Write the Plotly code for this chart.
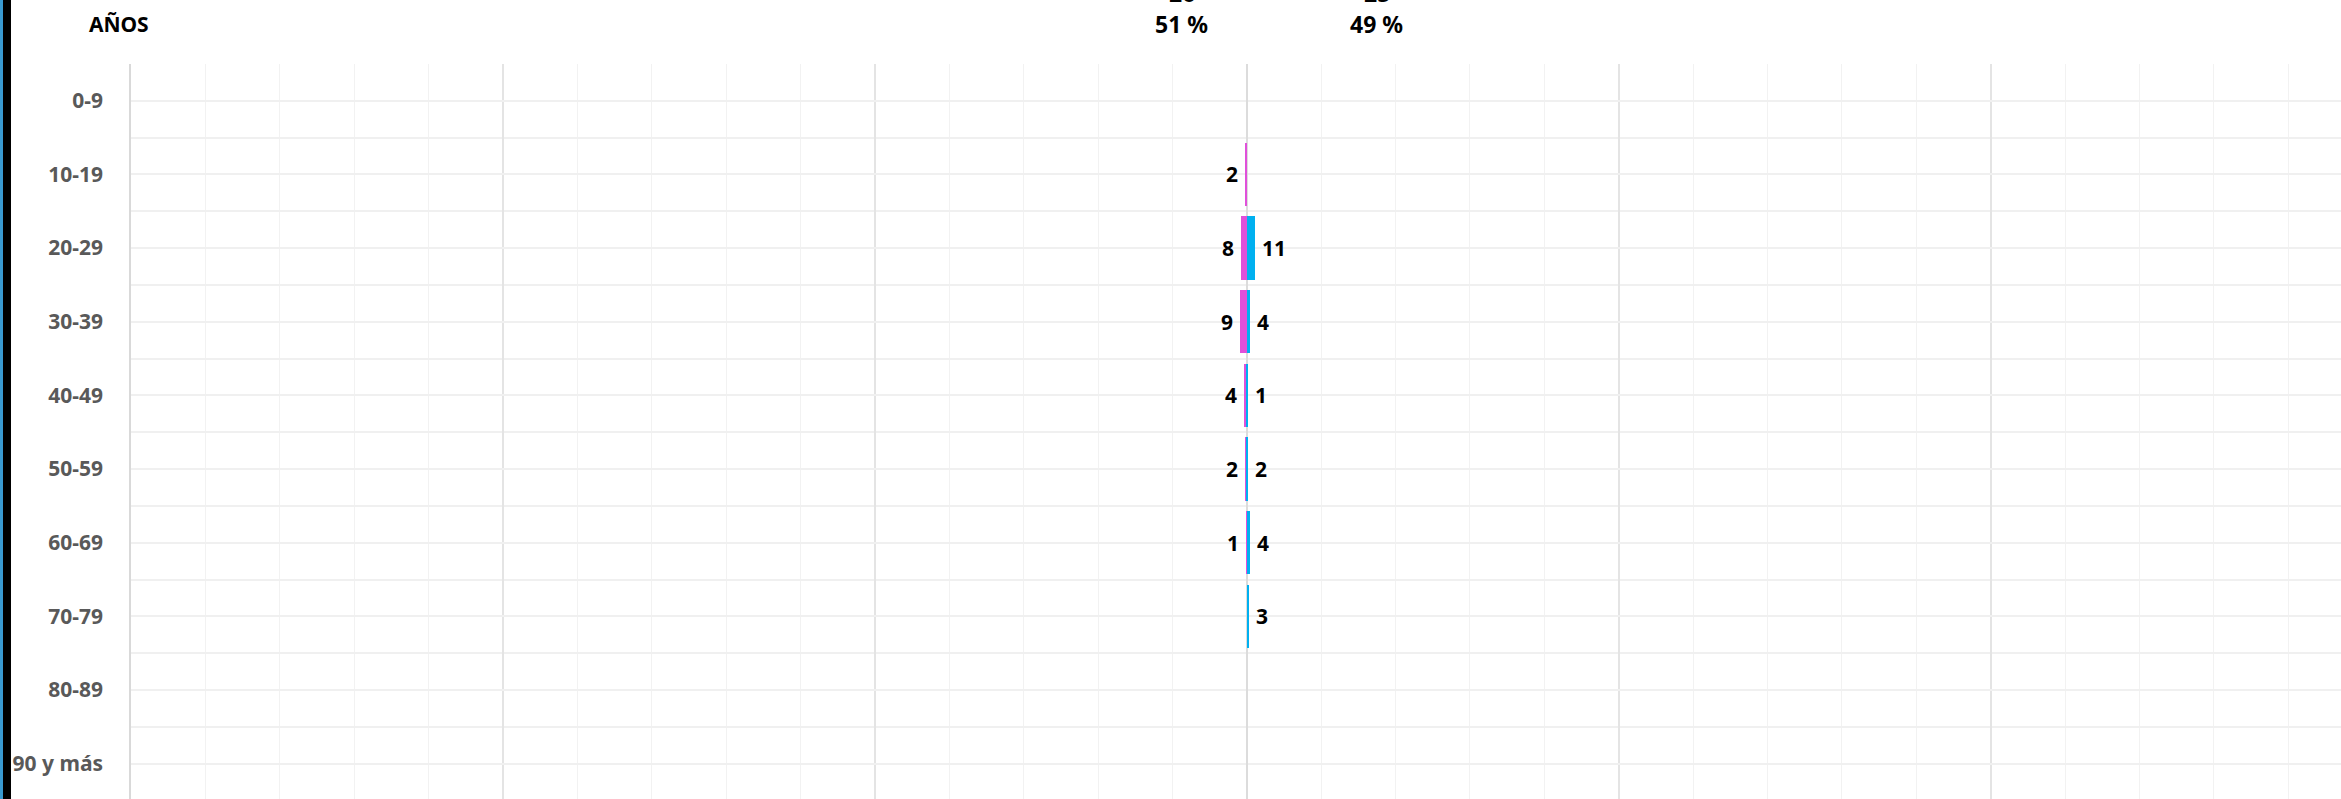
import plotly.graph_objects as go

categories = ["0-9", "10-19", "20-29", "30-39", "40-49", "50-59", "60-69", "70-79", "80-89", "90 y más"]
mujeres = [0, 2, 8, 9, 4, 2, 1, 0, 0, 0]
hombres = [0, 0, 11, 4, 1, 2, 4, 3, 0, 0]

MAGENTA = "#E050DA"
CYAN = "#00B0F0"
FONT = "Noto Sans"

ypos = list(range(len(categories)))
total_m = sum(mujeres)
total_h = sum(hombres)
total = total_m + total_h
pct_m = round(100 * total_m / total)
pct_h = round(100 * total_h / total)

fig = go.Figure()
fig.add_trace(go.Bar(y=ypos, x=[-v for v in mujeres], orientation="h", width=0.86,
                     marker=dict(color=MAGENTA, line=dict(width=0)), name="Mujeres",
                     hovertemplate="%{customdata}<extra></extra>", customdata=mujeres))
fig.add_trace(go.Bar(y=ypos, x=hombres, orientation="h", width=0.86,
                     marker=dict(color=CYAN, line=dict(width=0)), name="Hombres",
                     hovertemplate="%{x}<extra></extra>"))

annotations = []
for i, v in enumerate(mujeres):
    if v > 0:
        annotations.append(dict(x=-v, y=i, xref="x", yref="y", text=f"<b>{v}</b>", showarrow=False,
                                xanchor="right", yanchor="middle", xshift=-5,
                                font=dict(family=FONT, size=21, color="#000000")))
for i, v in enumerate(hombres):
    if v > 0:
        annotations.append(dict(x=v, y=i, xref="x", yref="y", text=f"<b>{v}</b>", showarrow=False,
                                xanchor="left", yanchor="middle", xshift=5,
                                font=dict(family=FONT, size=21, color="#000000")))

# totals and percentages at the top
for xp, tot, pc in [(0.4754, total_m, pct_m), (0.5636, total_h, pct_h)]:
    annotations.append(dict(x=xp, y=1.0551, xref="paper", yref="paper", text=f"<b>{pc} %</b>",
                            showarrow=False, xanchor="center", yanchor="middle",
                            font=dict(family=FONT, size=23, color="#000000")))
    annotations.append(dict(x=xp, y=1.096, xref="paper", yref="paper", text=f"<b>{tot}</b>",
                            showarrow=False, xanchor="center", yanchor="middle",
                            font=dict(family=FONT, size=23, color="#000000")))

annotations.append(dict(x=-0.0199, y=1.0551, xref="paper", yref="paper", text="<b>AÑOS</b>",
                        showarrow=False, xanchor="left", yanchor="middle",
                        font=dict(family=FONT, size=21, color="#000000")))

shapes = [
    dict(type="rect", xref="paper", yref="paper", x0=-131 / 2210, x1=-128 / 2210, y0=-0.1, y1=1.2,
         fillcolor="#3A9AD0", line=dict(width=0), layer="above"),
    dict(type="rect", xref="paper", yref="paper", x0=-128 / 2210, x1=-120 / 2210, y0=-0.1, y1=1.2,
         fillcolor="#000000", line=dict(width=0), layer="above"),
]

fig.update_layout(
    width=2341, height=799, autosize=False,
    margin=dict(l=131, r=0, t=64, b=0, pad=0),
    paper_bgcolor="white", plot_bgcolor="white",
    barmode="overlay", showlegend=False, bargap=0,
    annotations=annotations, shapes=shapes,
    xaxis=dict(range=[-1500, 1471], tickmode="linear", tick0=0, dtick=500,
               showticklabels=False, showgrid=True, gridcolor="#e4e4e4", gridwidth=1.5,
               zeroline=True, zerolinecolor="#dcdcdc", zerolinewidth=1.5,
               showline=False,
               minor=dict(tickmode="linear", tick0=0, dtick=100, showgrid=True,
                          gridcolor="#f2f2f2", gridwidth=1)),
    yaxis=dict(range=[9.48, -0.5], tickmode="array", tickvals=ypos, ticktext=[f"<b>{c}</b>" for c in categories],
               tickfont=dict(family=FONT, size=21, color="#595959"),
               showgrid=True, gridcolor="#f0f0f0", gridwidth=1.5, zeroline=False,
               ticks="", ticklabelstandoff=22,
               showline=True, linecolor="#d9d9d9", linewidth=1.5,
               minor=dict(tickmode="array", tickvals=[i - 0.5 for i in range(len(categories) + 1)],
                          showgrid=True, gridcolor="#f0f0f0", gridwidth=1.5)),
)

fig.write_html("out.html", config={"displayModeBar": False},
               post_script="document.body.style.margin='0';document.body.style.overflow='hidden';")
